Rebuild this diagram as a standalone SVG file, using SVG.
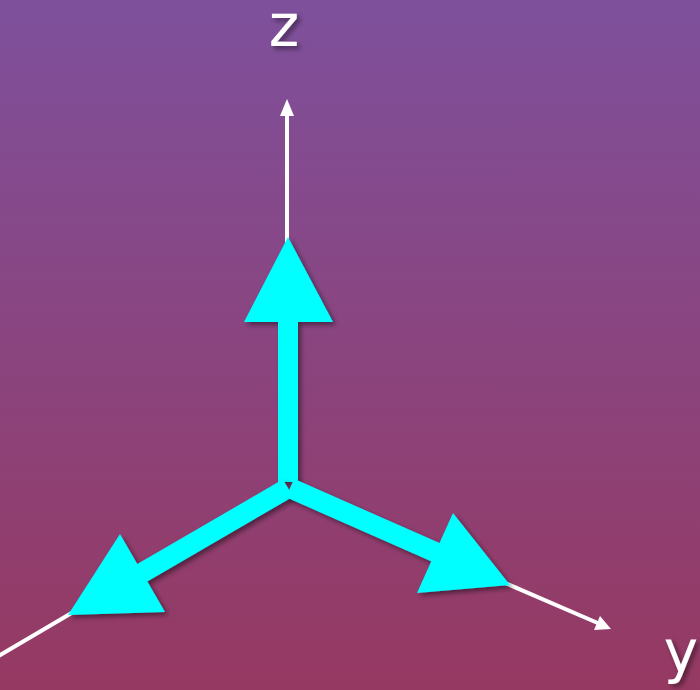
<svg xmlns="http://www.w3.org/2000/svg" width="700" height="690" viewBox="0 0 700 690">
<defs>
<linearGradient id="bg" x1="0" y1="0" x2="0" y2="1">
<stop offset="0" stop-color="#7e509c"/>
<stop offset="1" stop-color="#963962"/>
</linearGradient>
<filter id="sh" x="-20%" y="-20%" width="140%" height="140%">
<feDropShadow dx="3" dy="3" stdDeviation="2.5" flood-color="#000" flood-opacity="0.45"/>
</filter>
<marker id="wa" markerWidth="8" markerHeight="8" refX="7" refY="4" orient="auto" markerUnits="userSpaceOnUse" viewBox="0 0 8 8">
</marker>
<style>
.axis{stroke:#fff;stroke-width:4;fill:none}
.head{fill:#fff}
.shaft{stroke:#00ffff;stroke-width:20;fill:none}
.cone{fill:#00ffff}
.lbl{font-family:"DejaVu Sans",sans-serif;font-size:58px;fill:#fff}
</style>
</defs>
<rect width="700" height="690" fill="url(#bg)"/>
<g id="connectors">
<g id="axis-z">
<line class="axis" x1="287" y1="112" x2="287" y2="250"/>
<polygon class="head" points="287,99 294,116 280,116"/>
</g>
<g id="axis-y">
<line class="axis" x1="505" y1="583" x2="600" y2="624"/>
<polygon class="head" points="611,629 594,630 600,616"/>
</g>
<g id="axis-x">
<line class="axis" x1="75" y1="611" x2="-5" y2="658"/>
</g>
</g>
<g id="arrow-z" filter="url(#sh)">
<line class="shaft" x1="288" y1="482" x2="288" y2="315"/>
<polygon class="cone" points="288,237 333,322 244,322"/>
</g>
<g id="arrow-x" filter="url(#sh)">
<line class="shaft" x1="288" y1="488" x2="135" y2="577"/>
<polygon class="cone" points="68,615 120,534 165,612"/>
</g>
<g id="arrow-y" filter="url(#sh)">
<line class="shaft" x1="290" y1="488" x2="460" y2="563"/>
<polygon class="cone" points="510,585 453,513 417,593"/>
</g>
<g id="label-z" filter="url(#sh)"><text class="lbl" x="284" y="46" text-anchor="middle">z</text></g>
<g id="label-y" filter="url(#sh)"><text class="lbl" x="681" y="672" text-anchor="middle">y</text></g>
</svg>
